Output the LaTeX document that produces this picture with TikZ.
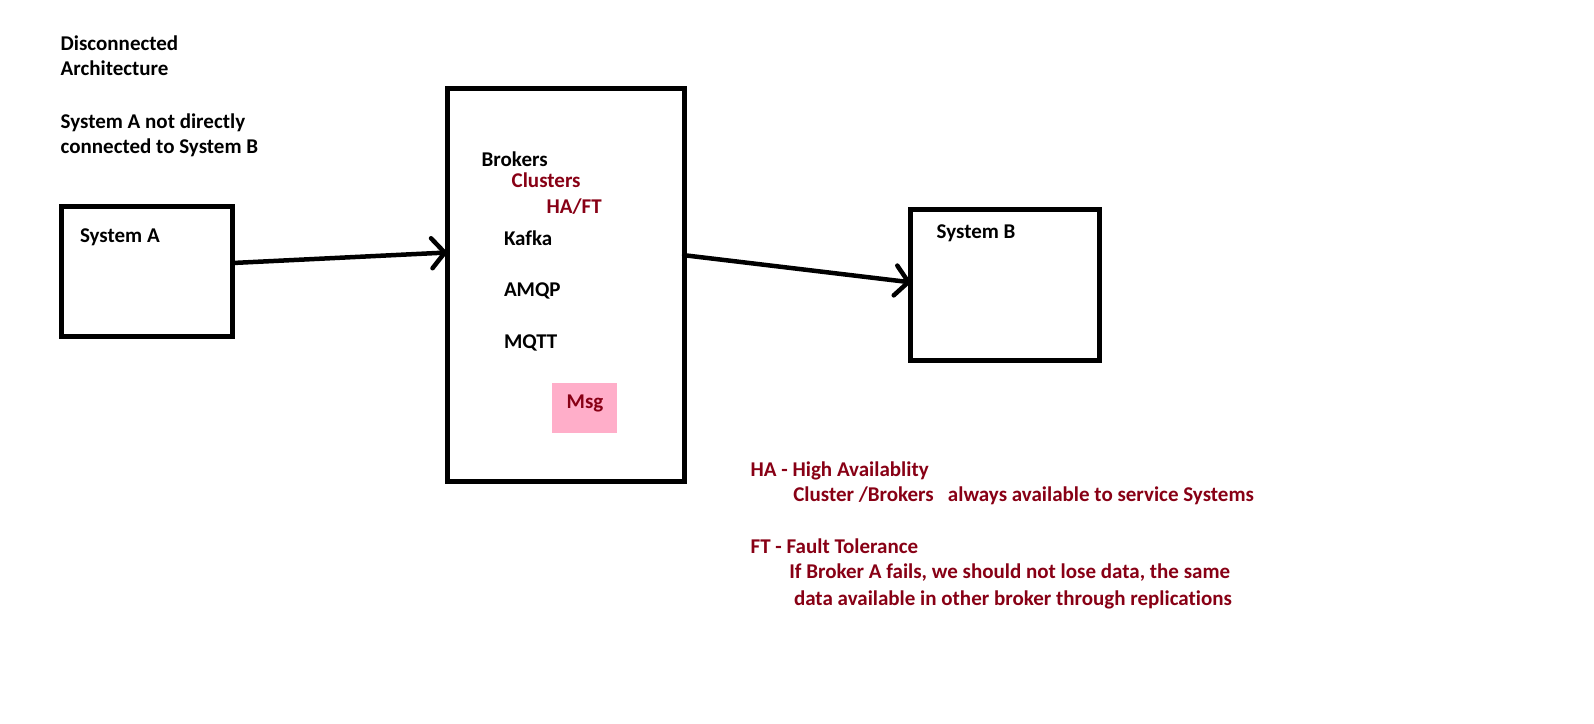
\documentclass[tikz,border=0pt]{standalone}
\usepackage{fontspec}
\setmainfont{Carlito}[Ligatures={NoCommon}, RawFeature={-dlig}]
\usetikzlibrary{arrows.meta}
\definecolor{dred}{RGB}{136,0,21}
\definecolor{pinkfill}{RGB}{255,174,201}
\begin{document}
\begin{tikzpicture}[x=1pt,y=-1pt,
  txt/.style={anchor=base west, inner sep=0pt, outer sep=0pt, font=\bfseries\fontsize{21}{25}\selectfont},
  redtxt/.style={txt, text=dred},
  box/.style={draw=black, line width=5pt, outer sep=0pt, inner sep=0pt},
  conn/.style={line width=4.5pt, line cap=round, -{Straight Barb[length=13pt,width=30pt,line cap=round,line join=round]}}
]
\useasboundingbox[fill=white] (0,0) rectangle (1594,723);

% left texts
\node[txt] (t1) at (60.7,50) {Disconnected};
\node[txt] (t2) at (60.7,75) {Architecture};
\node[txt] (t3) at (60.7,128) {System A not directly};
\node[txt] (t4) at (60.7,153) {connected to System B};

% boxes
\node[box, minimum width=170.7pt, minimum height=130pt] (sysA) at (147.3,271.7) {};
\node[box, minimum width=237pt, minimum height=393.5pt] (broker) at (565.5,285.2) {};
\node[box, minimum width=189.3pt, minimum height=150.7pt] (sysB) at (1005.3,285.3) {};

\node[txt] (la) at (80,242.7) {System A};
\node[txt] (lb) at (936.7,238.3) {System B};

% broker contents
\node[txt] (brokers) at (481.7,166) {Brokers};
\node[redtxt] (clusters) at (511.7,187.7) {Clusters};
\node[redtxt] (haft) at (546.7,213.3) {HA/FT};
\node[txt] (kafka) at (504,245) {Kafka};
\node[txt] (amqp) at (504,296.7) {AMQP};
\node[txt] (mqtt) at (504,348.3) {MQTT};
\node[fill=pinkfill, inner sep=0pt, outer sep=0pt, minimum width=65pt, minimum height=50pt] (msgbox) at (584.5,407.7) {};
\node[redtxt] (msg) at (566.7,408.3) {Msg};

% connectors
\draw[conn] ([yshift=8.7pt]sysA.east) -- ([yshift=32.7pt]broker.west);
\draw[conn] ([yshift=30pt]broker.east) -- ([yshift=3pt]sysB.west);

% notes
\node[redtxt] (n1) at (750.7,476) {HA - High Availablity};
\node[redtxt] (n2) at (793.3,501.7) {Cluster /Brokers\ \ \ always available to service Systems};
\node[redtxt] (n3) at (750.7,553.3) {FT - Fault Tolerance};
\node[redtxt] (n4) at (789.3,578.3) {If Broker A fails, we should not lose data, the same};
\node[redtxt] (n5) at (794,605) {data available in other broker through replications};
\end{tikzpicture}
\end{document}
